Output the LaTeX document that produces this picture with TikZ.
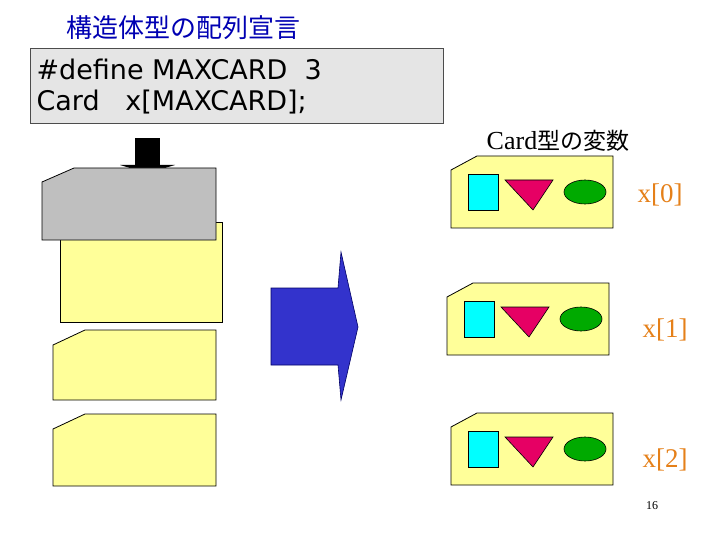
\documentclass[tikz,border=0pt]{standalone}
\usepackage{fontspec}
\setmainfont{Liberation Serif}
\newfontfamily\cjk{Noto Sans CJK JP}
\newfontfamily\sans{DejaVu Sans}
\definecolor{cy}{RGB}{0,255,255}
\definecolor{mg}{RGB}{230,0,100}
\definecolor{gr}{RGB}{0,170,0}
\definecolor{yl}{RGB}{255,255,153}
\begin{document}
\begin{tikzpicture}[x=1pt,y=-1pt,
  card/.style={fill=yl,draw=black,line width=0.8pt},
  lbl/.style={text=orange!60!brown,font=\fontsize{27}{27}\selectfont}]
\useasboundingbox (0,0) rectangle (720,540);
\node[text=blue!70!black,font=\cjk\fontsize{26}{26}\selectfont,anchor=west] (title) at (63,28) {構造体型の配列宣言};
\draw[fill=black!10,draw=black!70,line width=0.8pt] (30,48) rectangle (443,123);
\node[anchor=west,font=\sans\fontsize{27}{27}\selectfont] (l1) at (33,69) {\#define MAXCARD\ \ 3};
\node[anchor=west,font=\sans\fontsize{27}{27}\selectfont] (l2) at (33,102) {Card\ \ \ x[MAXCARD];};
% black arrow
\fill (135,138) rectangle (160,166);
\fill (120,165) -- (175,165) -- (165,168) -- (130,168) -- cycle;
% left cards
\draw[card] (60,222) rectangle (222,322);
\draw[fill=black!25,line width=0.8pt] (42,182) -- (74,168) -- (216,168) -- (216,240) -- (42,240) -- cycle;
\draw[card] (53,345) -- (85,330) -- (216,330) -- (216,400) -- (53,400) -- cycle;
\draw[card] (53,429) -- (85,414) -- (216,414) -- (216,486) -- (53,486) -- cycle;
% blue arrow
\draw[fill={rgb,255:red,51;green,51;blue,204},draw=blue!40!black,line width=0.6pt] (271,288) -- (338,288) -- (341,252) -- (358,327) -- (341,400) -- (338,365) -- (271,365) -- cycle;
\node[font=\fontsize{26}{26}\selectfont] (hdr) at (558,141) {Card{\cjk\fontsize{23}{23}\selectfont 型の変数}};
\foreach \dx/\dy in {0/0, -4/127, 0/257}{
  \begin{scope}[shift={(\dx,\dy)}]
  \draw[card] (451,170) -- (477,156) -- (613,156) -- (613,228) -- (451,228) -- cycle;
  \draw[fill=cy,line width=0.6pt] (468,174) rectangle (498,210);
  \draw[fill=mg,line width=0.6pt] (505,180) -- (553,180) -- (533,210) -- cycle;
  \draw[fill=gr,line width=0.6pt] (585,192) ellipse (21 and 12);
  \end{scope}
}
\node[lbl] (x0) at (660,195) {x[0]};
\node[lbl] (x1) at (665,330) {x[1]};
\node[lbl] (x2) at (665,460) {x[2]};
\node[font=\fontsize{12}{12}\selectfont] (pg) at (652,506) {16};
\end{tikzpicture}
\end{document}
